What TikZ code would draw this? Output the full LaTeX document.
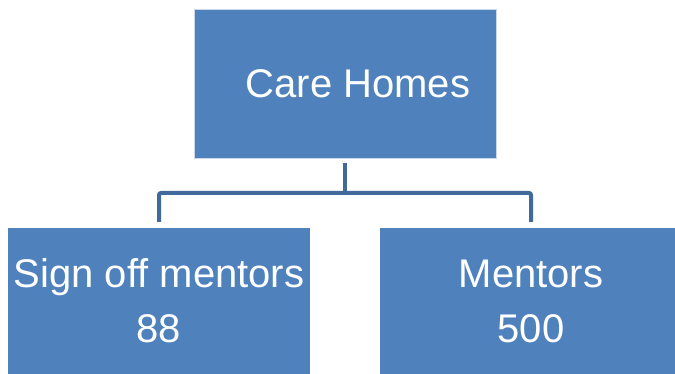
\documentclass[tikz,border=0pt]{standalone}
\usepackage{fontspec}
\setmainfont{Liberation Sans}
\definecolor{boxblue}{HTML}{4F81BD}
\definecolor{lineblue}{HTML}{41699B}
\definecolor{edgeblue}{HTML}{C9D7EA}
\begin{document}
\begin{tikzpicture}[x=1pt,y=-1pt,
  box/.style={rectangle, fill=boxblue, text=white, inner sep=0pt, align=center,
    font=\fontsize{40}{55}\selectfont},
  conn/.style={draw=lineblue, line width=4pt, rounded corners=2pt}]
\useasboundingbox (0,0) rectangle (675,374);
\node[box, draw=edgeblue, line width=0.8pt, minimum width=302pt, minimum height=149pt] (top) at (345,83.5) {\hspace*{26pt}Care Homes};
\node[box, minimum width=302pt, minimum height=146pt] (left) at (159,301) {Sign off mentors\\88};
\node[box, minimum width=302pt, minimum height=146pt] (right) at (531,301) {Mentors\\500};
\coordinate (mid) at (345,193);
\draw[conn] ([yshift=-5pt]top.south) -- (mid);
\draw[conn] ([yshift=6pt]left.north) |- (mid) -| ([yshift=6pt]right.north);
\end{tikzpicture}
\end{document}
